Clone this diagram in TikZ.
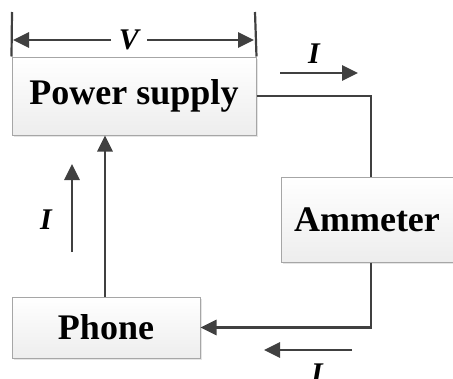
\documentclass[tikz,border=0pt]{standalone}
\usepackage{fontspec}
\setmainfont{Liberation Serif}
\usetikzlibrary{arrows.meta,shadows}
\begin{document}
\begin{tikzpicture}[x=1pt,y=1pt,
  box/.style={draw=gray!70,line width=1pt,top color=white,bottom color=gray!14,
    drop shadow={shadow xshift=2pt,shadow yshift=-2pt,fill=gray!40},
    font=\fontsize{36}{40}\selectfont\bfseries,inner sep=0pt},
  wire/.style={draw=black!75,line width=2.7pt},
  tip/.style={-{Triangle[length=16pt,width=15pt]}},
  lbl/.style={font=\fontsize{30}{34}\selectfont\bfseries\itshape,inner sep=0pt}]
\useasboundingbox (0,0) rectangle (453,-378);
\node[box,minimum width=244pt,minimum height=78pt] (ps) at (134,-96) {Power supply};
\node[box,minimum width=172pt,minimum height=85pt] (am) at (367,-219.5) {Ammeter};
\node[box,minimum width=188pt,minimum height=61pt] (ph) at (106,-327.5) {Phone};
% wires
\draw[wire] (ps.east) -| ([xshift=4pt]am.north);
\draw[wire,tip] ([xshift=4pt]am.south) |- (ph.east);
\draw[wire,tip] ([xshift=-1pt]ph.north) -- ([xshift=-1pt]ph.north |- ps.south);
% voltage dimension
\coordinate (vl) at (12,-12);
\coordinate (vr) at (255,-12);
\draw[wire,line width=2.2pt] (ps.north west) -- (vl);
\draw[wire,line width=2.2pt] (ps.north east) -- (vr);
\node[lbl] (V) at (129,-40) {V};
\coordinate (va) at (13,-40);
\coordinate (vb) at (254,-40);
\draw[wire,tip] ([xshift=-18pt]V.center) -- (va);
\draw[wire,tip] ([xshift=18pt]V.center) -- (vb);
% current arrows
\coordinate (t1) at (280,-73);
\coordinate (t2) at (358,-73);
\draw[wire,tip] (t1) -- (t2);
\node[lbl] (It) at (314,-54) {I};
\coordinate (l1) at (72,-252);
\coordinate (l2) at (72,-164);
\draw[wire,tip] (l1) -- (l2);
\node[lbl] (Il) at (46,-220) {I};
\coordinate (b1) at (352,-350);
\coordinate (b2) at (264,-350);
\draw[wire,tip] (b1) -- (b2);
\node[lbl] (Ib) at (317,-374) {I};
\end{tikzpicture}
\end{document}
